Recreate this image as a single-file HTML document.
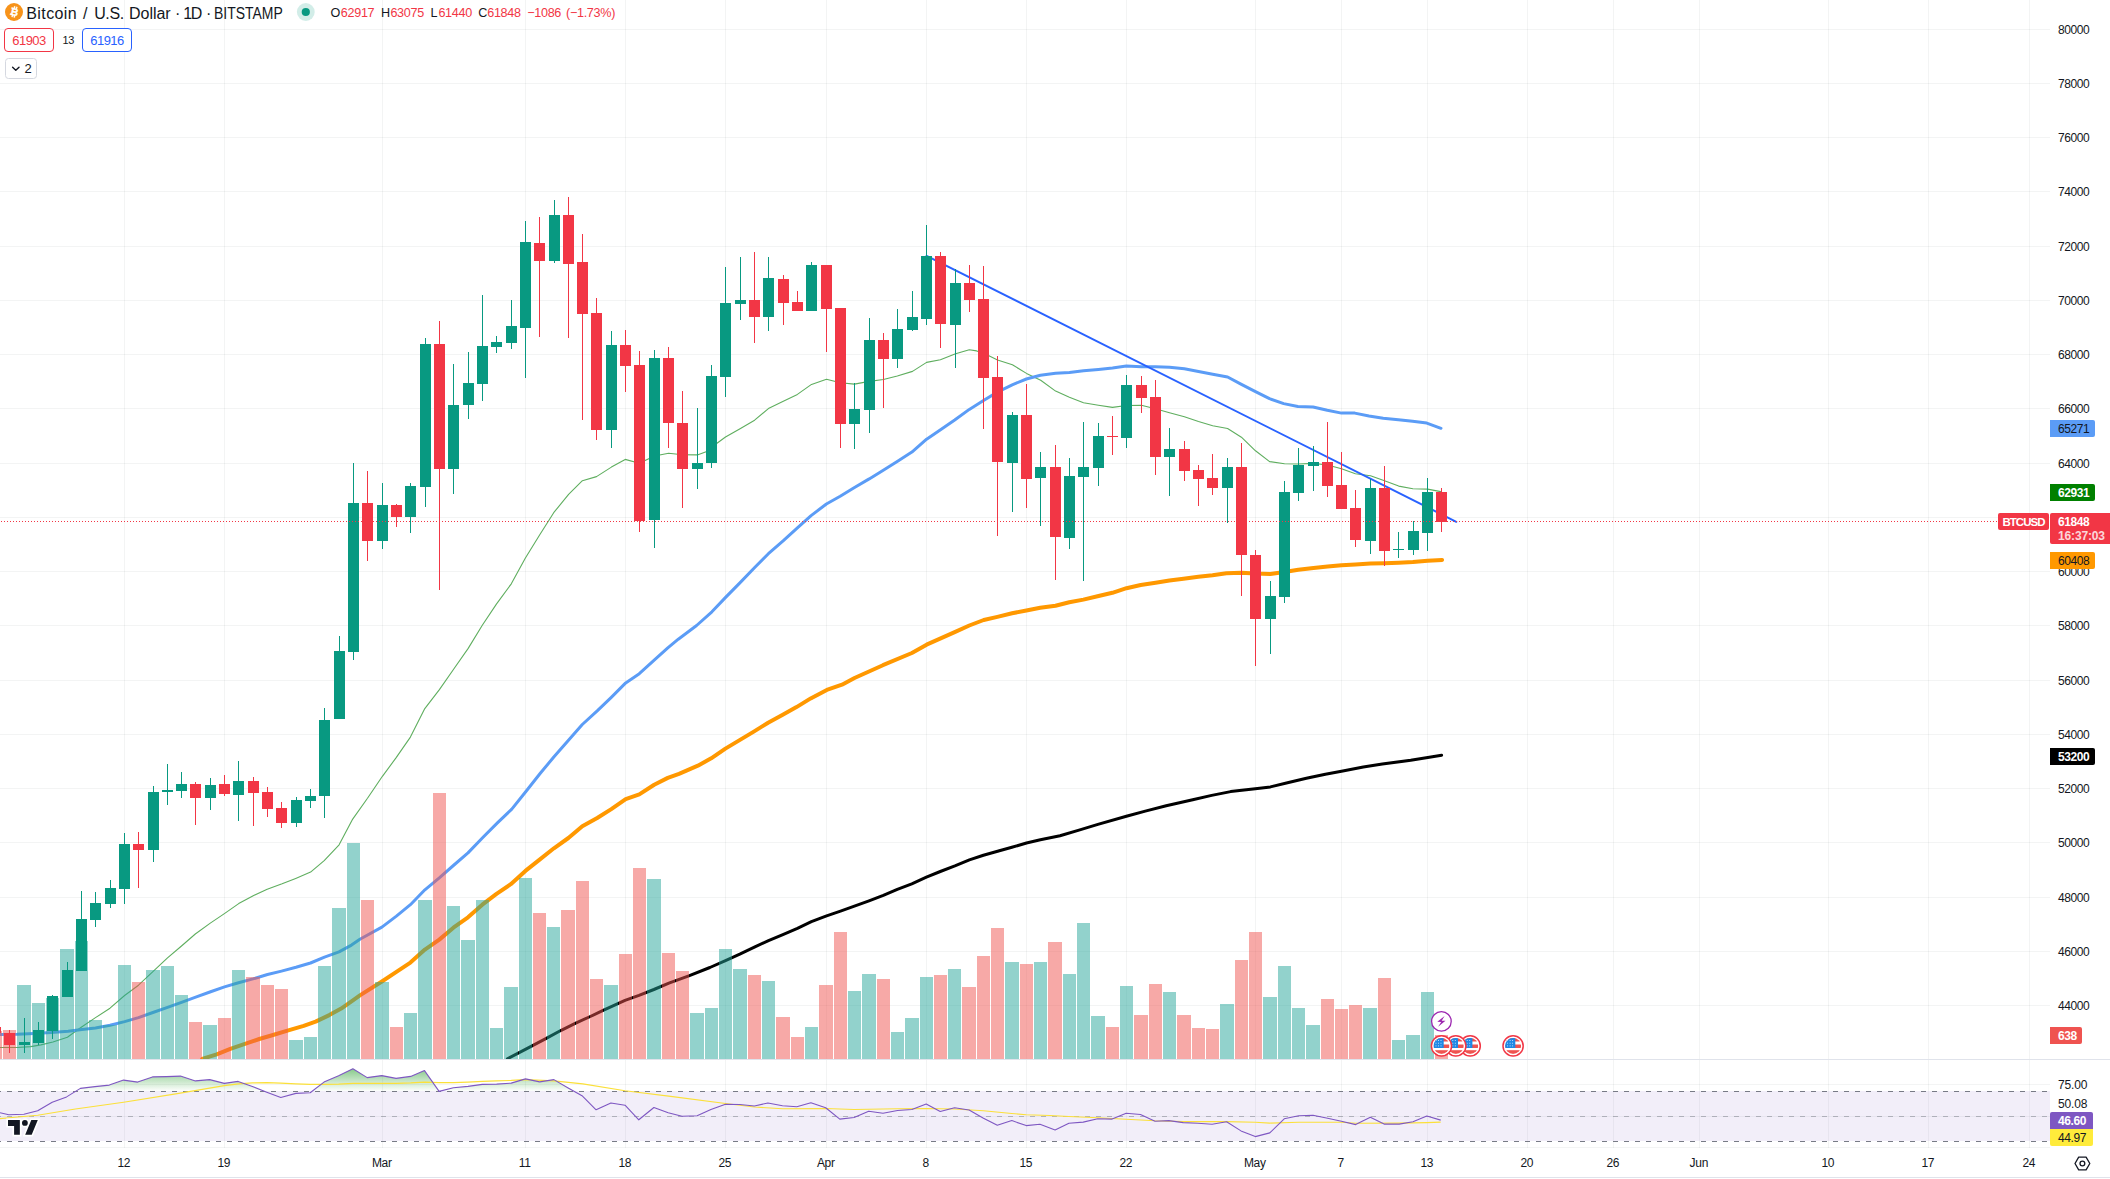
<!DOCTYPE html>
<html><head><meta charset="utf-8"><title>BTCUSD</title><style>
html,body{margin:0;padding:0;background:#fff;}
body{width:2110px;height:1179px;overflow:hidden;position:relative;font-family:"Liberation Sans",sans-serif;}
svg{position:absolute;left:0;top:0;}
.t{position:absolute;white-space:nowrap;font-family:"Liberation Sans",sans-serif;}
.ax{font-size:12px;line-height:14px;color:#131722;letter-spacing:-0.4px;}
.bx{position:absolute;left:2050px;box-sizing:border-box;padding-left:8px;font-size:12px;letter-spacing:-0.4px;border-radius:0 2px 2px 0;white-space:nowrap;font-family:"Liberation Sans",sans-serif;}
.tx{width:60px;text-align:center;font-size:12px;line-height:14px;color:#131722;letter-spacing:-0.3px;}
.ti{top:3.5px;font-size:16px;line-height:20px;color:#131722;}
.oh{top:5px;font-size:12.6px;line-height:16px;letter-spacing:-0.3px;}
.pill{position:absolute;box-sizing:content-box;height:22px;line-height:23px;border:1px solid;border-radius:4px;text-align:center;font-size:13px;letter-spacing:-0.55px;background:#fff;font-family:"Liberation Sans",sans-serif;}
</style></head>
<body>
<svg width="2110" height="1179" viewBox="0 0 2110 1179">
<g shape-rendering="crispEdges" fill="rgba(40,62,56,0.055)">
<rect x="0" y="29" width="2050" height="1"/>
<rect x="0" y="83" width="2050" height="1"/>
<rect x="0" y="137" width="2050" height="1"/>
<rect x="0" y="191" width="2050" height="1"/>
<rect x="0" y="246" width="2050" height="1"/>
<rect x="0" y="300" width="2050" height="1"/>
<rect x="0" y="354" width="2050" height="1"/>
<rect x="0" y="408" width="2050" height="1"/>
<rect x="0" y="463" width="2050" height="1"/>
<rect x="0" y="517" width="2050" height="1"/>
<rect x="0" y="571" width="2050" height="1"/>
<rect x="0" y="625" width="2050" height="1"/>
<rect x="0" y="680" width="2050" height="1"/>
<rect x="0" y="734" width="2050" height="1"/>
<rect x="0" y="788" width="2050" height="1"/>
<rect x="0" y="842" width="2050" height="1"/>
<rect x="0" y="897" width="2050" height="1"/>
<rect x="0" y="951" width="2050" height="1"/>
<rect x="0" y="1005" width="2050" height="1"/>
<rect x="0" y="1084" width="2050" height="1"/>
<rect x="0" y="1116" width="2050" height="1"/>
<rect x="0" y="1147" width="2050" height="1"/>
<rect x="124" y="0" width="1" height="1148"/>
<rect x="224" y="0" width="1" height="1148"/>
<rect x="382" y="0" width="1" height="1148"/>
<rect x="525" y="0" width="1" height="1148"/>
<rect x="625" y="0" width="1" height="1148"/>
<rect x="725" y="0" width="1" height="1148"/>
<rect x="826" y="0" width="1" height="1148"/>
<rect x="926" y="0" width="1" height="1148"/>
<rect x="1026" y="0" width="1" height="1148"/>
<rect x="1126" y="0" width="1" height="1148"/>
<rect x="1255" y="0" width="1" height="1148"/>
<rect x="1341" y="0" width="1" height="1148"/>
<rect x="1427" y="0" width="1" height="1148"/>
<rect x="1527" y="0" width="1" height="1148"/>
<rect x="1613" y="0" width="1" height="1148"/>
<rect x="1699" y="0" width="1" height="1148"/>
<rect x="1828" y="0" width="1" height="1148"/>
<rect x="1928" y="0" width="1" height="1148"/>
<rect x="2029" y="0" width="1" height="1148"/>
</g>
<clipPath id="mp"><rect x="0" y="0" width="2050" height="1059"/></clipPath>
<g fill="none" stroke-linejoin="round" stroke-linecap="round" clip-path="url(#mp)">
<polyline points="0.0,1047.5 17.0,1047.5 30.7,1046.6 40.9,1044.9 52.9,1042.0 67.4,1037.3 81.6,1027.0 95.5,1017.6 110.0,1008.2 124.6,995.5 138.5,985.2 152.9,971.6 167.5,957.9 181.5,946.0 195.3,934.0 210.3,923.1 224.4,913.6 238.7,903.6 253.7,895.5 267.2,889.2 282.1,883.8 295.7,878.4 310.6,872.1 324.2,860.7 339.1,844.8 352.7,819.1 367.5,798.3 382.4,776.3 396.0,757.9 410.4,737.1 424.8,708.6 439.4,689.6 453.6,669.2 468.2,648.4 482.3,625.3 496.4,604.1 511.3,583.8 525.4,558.0 539.6,535.0 553.7,512.7 568.6,494.3 582.4,480.7 596.5,476.6 611.4,467.1 625.2,459.4 639.3,463.3 654.5,456.0 668.6,453.3 682.4,454.7 697.3,454.9 706.8,451.4 716.3,443.8 725.5,437.0 740.5,428.4 754.6,420.2 768.4,408.6 783.3,401.2 797.4,394.4 811.5,384.4 826.5,379.3 840.3,382.8 854.4,384.1 869.3,381.4 883.4,379.5 897.3,376.0 912.5,371.4 926.6,362.4 940.4,359.7 955.6,353.8 969.3,349.8 976.6,350.9 983.4,353.1 997.5,359.9 1012.4,364.8 1026.5,373.4 1040.7,380.2 1055.6,391.1 1069.4,397.3 1083.5,402.7 1098.4,405.2 1112.5,407.4 1126.4,405.5 1141.3,405.2 1155.4,408.7 1169.5,412.8 1184.4,416.8 1198.5,421.5 1212.7,425.8 1227.6,428.5 1241.4,437.2 1255.5,450.8 1269.6,461.6 1284.5,463.8 1298.3,464.0 1313.5,463.4 1327.5,465.0 1341.5,468.8 1355.4,473.8 1370.5,475.7 1384.5,480.8 1398.7,486.1 1412.9,488.8 1427.6,489.1 1440.8,491.6" stroke="#5fae5f" stroke-width="1.1"/>
<polyline points="0.0,1034.4 17.0,1034.2 34.1,1033.5 51.2,1032.6 68.2,1031.3 81.9,1029.6 95.5,1027.9 110.0,1025.3 124.6,1021.6 138.5,1017.6 152.9,1012.5 167.5,1007.4 181.5,1002.3 195.7,997.2 209.9,992.0 224.5,986.9 238.5,982.7 253.0,978.9 267.5,974.5 281.5,971.1 296.0,967.3 310.5,963.0 324.5,957.1 339.0,951.9 351.5,945.1 359.9,939.2 381.9,927.1 396.4,916.1 410.4,904.7 424.9,889.8 439.3,877.8 453.4,865.5 468.0,852.9 483.3,837.0 497.4,822.9 511.8,809.1 525.9,791.5 540.3,773.3 553.8,757.0 568.7,739.9 582.3,724.5 597.2,710.9 611.3,697.3 625.7,682.9 639.3,673.7 654.2,660.2 667.8,647.9 678.3,639.2 696.6,625.5 711.9,611.8 725.6,597.4 739.4,583.4 754.7,567.5 768.4,553.7 783.1,540.9 797.4,527.8 811.1,515.6 826.4,504.0 840.2,496.3 854.5,487.5 869.2,478.9 882.9,470.4 897.6,461.2 911.9,452.1 926.6,439.2 940.9,429.5 954.7,420.0 969.3,409.4 983.5,400.5 997.4,392.1 1012.2,384.8 1026.4,379.0 1040.4,375.2 1055.6,373.2 1069.4,372.6 1083.5,370.7 1098.4,369.4 1112.5,368.0 1126.4,366.1 1141.3,366.7 1155.4,366.7 1169.5,367.2 1184.4,368.8 1198.5,371.5 1212.7,374.3 1227.6,377.0 1241.4,384.3 1255.5,391.6 1269.5,398.7 1283.7,403.6 1297.9,406.5 1313.1,407.0 1327.3,410.3 1341.5,413.1 1354.8,413.1 1369.0,416.0 1383.2,418.3 1398.4,419.8 1412.6,421.2 1426.8,423.1 1441.0,428.3" stroke="#5b9cf6" stroke-width="3"/>
<polyline points="202.2,1058.9 216.7,1054.3 230.3,1048.9 245.7,1043.6 259.3,1039.0 273.0,1035.0 288.3,1030.4 303.7,1025.8 315.6,1021.6 329.3,1015.1 341.2,1008.6 351.5,1001.4 359.9,995.4 381.9,981.5 396.4,971.9 410.4,962.6 424.9,949.6 439.3,939.6 453.4,927.7 468.0,917.3 482.3,904.7 496.5,893.8 510.8,884.2 525.4,870.9 539.3,859.9 553.9,848.3 568.4,838.0 582.3,826.2 597.2,818.0 611.3,809.1 625.7,799.1 639.3,794.4 654.2,784.7 667.8,777.9 679.0,773.8 697.9,765.7 711.2,758.3 725.4,748.6 739.6,740.1 753.8,731.6 768.1,722.7 782.3,715.1 796.5,707.1 810.7,698.4 826.8,689.9 842.0,684.7 854.5,678.0 882.9,665.2 911.9,653.0 926.6,644.7 954.7,632.2 969.3,625.5 983.7,620.0 997.4,616.9 1012.1,613.3 1026.4,610.5 1040.2,607.8 1055.5,605.8 1069.3,602.3 1083.4,599.6 1097.5,596.3 1112.4,592.8 1126.5,588.2 1140.7,585.0 1155.6,582.8 1169.4,580.6 1183.5,578.7 1198.4,576.8 1212.5,575.2 1226.4,573.3 1241.3,572.7 1255.4,573.6 1270.3,574.1 1284.4,571.9 1298.3,569.8 1313.5,567.9 1327.6,566.6 1341.5,565.3 1355.4,564.6 1370.5,563.6 1384.5,563.2 1398.7,562.8 1412.9,562.1 1427.6,560.8 1442.1,559.9" stroke="#ff9800" stroke-width="4"/>
<polyline points="507.4,1058.8 525.4,1049.3 546.3,1038.3 561.2,1030.3 575.2,1023.3 589.2,1017.0 603.1,1010.4 625.0,1000.4 639.0,995.4 653.9,989.5 668.9,983.1 688.8,975.8 709.9,967.5 725.5,960.6 739.8,954.2 754.4,947.2 768.5,940.6 782.9,934.6 797.4,928.3 811.4,921.7 825.9,916.1 840.5,911.1 854.4,906.1 869.0,900.8 883.3,895.4 897.3,889.4 911.8,883.8 926.4,877.2 940.3,871.5 954.9,865.9 969.4,859.9 983.4,855.3 997.6,851.3 1011.9,847.3 1026.5,843.0 1040.4,839.8 1060.0,835.8 1079.0,830.1 1097.9,824.4 1126.4,816.3 1145.3,811.1 1166.2,805.8 1192.7,799.8 1211.7,795.4 1230.6,791.6 1255.3,788.8 1270.4,786.9 1287.5,782.7 1306.4,778.3 1325.4,774.2 1341.5,771.3 1363.3,767.0 1382.3,764.1 1410.7,760.3 1427.8,757.5 1441.6,755.2" stroke="#000" stroke-width="3"/>
</g>
<g shape-rendering="crispEdges">
<rect x="-11" y="1031" width="13" height="28" fill="rgba(239,83,80,0.5)"/>
<rect x="3" y="1030" width="13" height="29" fill="rgba(239,83,80,0.5)"/>
<rect x="17" y="985" width="14" height="74" fill="rgba(38,166,154,0.5)"/>
<rect x="32" y="1003" width="13" height="56" fill="rgba(38,166,154,0.5)"/>
<rect x="46" y="998" width="13" height="61" fill="rgba(38,166,154,0.5)"/>
<rect x="60" y="949" width="14" height="110" fill="rgba(38,166,154,0.5)"/>
<rect x="75" y="941" width="13" height="118" fill="rgba(38,166,154,0.5)"/>
<rect x="89" y="1020" width="13" height="39" fill="rgba(38,166,154,0.5)"/>
<rect x="103" y="1025" width="14" height="34" fill="rgba(38,166,154,0.5)"/>
<rect x="118" y="965" width="13" height="94" fill="rgba(38,166,154,0.5)"/>
<rect x="132" y="982" width="13" height="77" fill="rgba(239,83,80,0.5)"/>
<rect x="146" y="970" width="14" height="89" fill="rgba(38,166,154,0.5)"/>
<rect x="161" y="966" width="13" height="93" fill="rgba(38,166,154,0.5)"/>
<rect x="175" y="995" width="13" height="64" fill="rgba(38,166,154,0.5)"/>
<rect x="189" y="1022" width="13" height="37" fill="rgba(239,83,80,0.5)"/>
<rect x="203" y="1025" width="14" height="34" fill="rgba(38,166,154,0.5)"/>
<rect x="218" y="1018" width="13" height="41" fill="rgba(239,83,80,0.5)"/>
<rect x="232" y="970" width="13" height="89" fill="rgba(38,166,154,0.5)"/>
<rect x="246" y="977" width="14" height="82" fill="rgba(239,83,80,0.5)"/>
<rect x="261" y="985" width="13" height="74" fill="rgba(239,83,80,0.5)"/>
<rect x="275" y="989" width="13" height="70" fill="rgba(239,83,80,0.5)"/>
<rect x="289" y="1040" width="14" height="19" fill="rgba(38,166,154,0.5)"/>
<rect x="304" y="1037" width="13" height="22" fill="rgba(38,166,154,0.5)"/>
<rect x="318" y="966" width="13" height="93" fill="rgba(38,166,154,0.5)"/>
<rect x="332" y="908" width="14" height="151" fill="rgba(38,166,154,0.5)"/>
<rect x="347" y="843" width="13" height="216" fill="rgba(38,166,154,0.5)"/>
<rect x="361" y="900" width="13" height="159" fill="rgba(239,83,80,0.5)"/>
<rect x="375" y="982" width="14" height="77" fill="rgba(38,166,154,0.5)"/>
<rect x="390" y="1027" width="13" height="32" fill="rgba(239,83,80,0.5)"/>
<rect x="404" y="1013" width="13" height="46" fill="rgba(38,166,154,0.5)"/>
<rect x="418" y="900" width="14" height="159" fill="rgba(38,166,154,0.5)"/>
<rect x="433" y="793" width="13" height="266" fill="rgba(239,83,80,0.5)"/>
<rect x="447" y="906" width="13" height="153" fill="rgba(38,166,154,0.5)"/>
<rect x="461" y="940" width="14" height="119" fill="rgba(38,166,154,0.5)"/>
<rect x="476" y="900" width="13" height="159" fill="rgba(38,166,154,0.5)"/>
<rect x="490" y="1028" width="13" height="31" fill="rgba(38,166,154,0.5)"/>
<rect x="504" y="987" width="14" height="72" fill="rgba(38,166,154,0.5)"/>
<rect x="519" y="878" width="13" height="181" fill="rgba(38,166,154,0.5)"/>
<rect x="533" y="913" width="13" height="146" fill="rgba(239,83,80,0.5)"/>
<rect x="547" y="927" width="13" height="132" fill="rgba(38,166,154,0.5)"/>
<rect x="561" y="910" width="14" height="149" fill="rgba(239,83,80,0.5)"/>
<rect x="576" y="881" width="13" height="178" fill="rgba(239,83,80,0.5)"/>
<rect x="590" y="979" width="13" height="80" fill="rgba(239,83,80,0.5)"/>
<rect x="604" y="985" width="14" height="74" fill="rgba(38,166,154,0.5)"/>
<rect x="619" y="954" width="13" height="105" fill="rgba(239,83,80,0.5)"/>
<rect x="633" y="868" width="13" height="191" fill="rgba(239,83,80,0.5)"/>
<rect x="647" y="879" width="14" height="180" fill="rgba(38,166,154,0.5)"/>
<rect x="662" y="953" width="13" height="106" fill="rgba(239,83,80,0.5)"/>
<rect x="676" y="971" width="13" height="88" fill="rgba(239,83,80,0.5)"/>
<rect x="690" y="1013" width="14" height="46" fill="rgba(38,166,154,0.5)"/>
<rect x="705" y="1008" width="13" height="51" fill="rgba(38,166,154,0.5)"/>
<rect x="719" y="949" width="13" height="110" fill="rgba(38,166,154,0.5)"/>
<rect x="733" y="969" width="14" height="90" fill="rgba(38,166,154,0.5)"/>
<rect x="748" y="975" width="13" height="84" fill="rgba(239,83,80,0.5)"/>
<rect x="762" y="981" width="13" height="78" fill="rgba(38,166,154,0.5)"/>
<rect x="776" y="1017" width="14" height="42" fill="rgba(239,83,80,0.5)"/>
<rect x="791" y="1037" width="13" height="22" fill="rgba(239,83,80,0.5)"/>
<rect x="805" y="1027" width="13" height="32" fill="rgba(38,166,154,0.5)"/>
<rect x="819" y="985" width="14" height="74" fill="rgba(239,83,80,0.5)"/>
<rect x="834" y="932" width="13" height="127" fill="rgba(239,83,80,0.5)"/>
<rect x="848" y="991" width="13" height="68" fill="rgba(38,166,154,0.5)"/>
<rect x="862" y="974" width="14" height="85" fill="rgba(38,166,154,0.5)"/>
<rect x="877" y="979" width="13" height="80" fill="rgba(239,83,80,0.5)"/>
<rect x="891" y="1032" width="13" height="27" fill="rgba(38,166,154,0.5)"/>
<rect x="905" y="1018" width="14" height="41" fill="rgba(38,166,154,0.5)"/>
<rect x="920" y="977" width="13" height="82" fill="rgba(38,166,154,0.5)"/>
<rect x="934" y="975" width="13" height="84" fill="rgba(239,83,80,0.5)"/>
<rect x="948" y="969" width="13" height="90" fill="rgba(38,166,154,0.5)"/>
<rect x="962" y="987" width="14" height="72" fill="rgba(239,83,80,0.5)"/>
<rect x="977" y="956" width="13" height="103" fill="rgba(239,83,80,0.5)"/>
<rect x="991" y="928" width="13" height="131" fill="rgba(239,83,80,0.5)"/>
<rect x="1005" y="962" width="14" height="97" fill="rgba(38,166,154,0.5)"/>
<rect x="1020" y="964" width="13" height="95" fill="rgba(239,83,80,0.5)"/>
<rect x="1034" y="962" width="13" height="97" fill="rgba(38,166,154,0.5)"/>
<rect x="1048" y="942" width="14" height="117" fill="rgba(239,83,80,0.5)"/>
<rect x="1063" y="974" width="13" height="85" fill="rgba(38,166,154,0.5)"/>
<rect x="1077" y="923" width="13" height="136" fill="rgba(38,166,154,0.5)"/>
<rect x="1091" y="1016" width="14" height="43" fill="rgba(38,166,154,0.5)"/>
<rect x="1106" y="1027" width="13" height="32" fill="rgba(239,83,80,0.5)"/>
<rect x="1120" y="986" width="13" height="73" fill="rgba(38,166,154,0.5)"/>
<rect x="1134" y="1015" width="14" height="44" fill="rgba(239,83,80,0.5)"/>
<rect x="1149" y="984" width="13" height="75" fill="rgba(239,83,80,0.5)"/>
<rect x="1163" y="992" width="13" height="67" fill="rgba(38,166,154,0.5)"/>
<rect x="1177" y="1015" width="14" height="44" fill="rgba(239,83,80,0.5)"/>
<rect x="1192" y="1028" width="13" height="31" fill="rgba(239,83,80,0.5)"/>
<rect x="1206" y="1029" width="13" height="30" fill="rgba(239,83,80,0.5)"/>
<rect x="1220" y="1004" width="14" height="55" fill="rgba(38,166,154,0.5)"/>
<rect x="1235" y="960" width="13" height="99" fill="rgba(239,83,80,0.5)"/>
<rect x="1249" y="932" width="13" height="127" fill="rgba(239,83,80,0.5)"/>
<rect x="1263" y="997" width="14" height="62" fill="rgba(38,166,154,0.5)"/>
<rect x="1278" y="966" width="13" height="93" fill="rgba(38,166,154,0.5)"/>
<rect x="1292" y="1008" width="13" height="51" fill="rgba(38,166,154,0.5)"/>
<rect x="1306" y="1025" width="14" height="34" fill="rgba(38,166,154,0.5)"/>
<rect x="1321" y="999" width="13" height="60" fill="rgba(239,83,80,0.5)"/>
<rect x="1335" y="1009" width="13" height="50" fill="rgba(239,83,80,0.5)"/>
<rect x="1349" y="1005" width="13" height="54" fill="rgba(239,83,80,0.5)"/>
<rect x="1363" y="1008" width="14" height="51" fill="rgba(38,166,154,0.5)"/>
<rect x="1378" y="978" width="13" height="81" fill="rgba(239,83,80,0.5)"/>
<rect x="1392" y="1040" width="13" height="19" fill="rgba(38,166,154,0.5)"/>
<rect x="1406" y="1035" width="14" height="24" fill="rgba(38,166,154,0.5)"/>
<rect x="1421" y="992" width="13" height="67" fill="rgba(38,166,154,0.5)"/>
<rect x="1435" y="1035" width="13" height="24" fill="rgba(239,83,80,0.5)"/>
</g>
<line x1="926.6" y1="255.8" x2="1456.3" y2="521.8" stroke="#2962ff" stroke-width="2" stroke-linecap="round"/>
<g shape-rendering="crispEdges">
<rect x="-5" y="1025" width="1" height="11" fill="#f23645"/>
<rect x="-10" y="1027" width="11" height="6" fill="#f23645"/>
<rect x="9" y="1030" width="1" height="23" fill="#f23645"/>
<rect x="4" y="1033" width="11" height="12" fill="#f23645"/>
<rect x="24" y="1018" width="1" height="35" fill="#089981"/>
<rect x="19" y="1042" width="11" height="3" fill="#089981"/>
<rect x="38" y="1022" width="1" height="23" fill="#089981"/>
<rect x="33" y="1030" width="11" height="13" fill="#089981"/>
<rect x="52" y="995" width="1" height="44" fill="#089981"/>
<rect x="47" y="996" width="11" height="35" fill="#089981"/>
<rect x="67" y="962" width="1" height="35" fill="#089981"/>
<rect x="62" y="970" width="11" height="27" fill="#089981"/>
<rect x="81" y="891" width="1" height="80" fill="#089981"/>
<rect x="76" y="919" width="11" height="52" fill="#089981"/>
<rect x="95" y="892" width="1" height="35" fill="#089981"/>
<rect x="90" y="903" width="11" height="17" fill="#089981"/>
<rect x="110" y="880" width="1" height="28" fill="#089981"/>
<rect x="105" y="888" width="11" height="16" fill="#089981"/>
<rect x="124" y="833" width="1" height="71" fill="#089981"/>
<rect x="119" y="844" width="11" height="45" fill="#089981"/>
<rect x="138" y="832" width="1" height="56" fill="#f23645"/>
<rect x="133" y="844" width="11" height="6" fill="#f23645"/>
<rect x="153" y="786" width="1" height="76" fill="#089981"/>
<rect x="148" y="792" width="11" height="58" fill="#089981"/>
<rect x="167" y="764" width="1" height="41" fill="#089981"/>
<rect x="162" y="790" width="11" height="2" fill="#089981"/>
<rect x="181" y="772" width="1" height="26" fill="#089981"/>
<rect x="176" y="784" width="11" height="7" fill="#089981"/>
<rect x="195" y="782" width="1" height="43" fill="#f23645"/>
<rect x="190" y="784" width="11" height="14" fill="#f23645"/>
<rect x="210" y="778" width="1" height="32" fill="#089981"/>
<rect x="205" y="785" width="11" height="13" fill="#089981"/>
<rect x="224" y="775" width="1" height="21" fill="#f23645"/>
<rect x="219" y="784" width="11" height="10" fill="#f23645"/>
<rect x="238" y="761" width="1" height="60" fill="#089981"/>
<rect x="233" y="781" width="11" height="14" fill="#089981"/>
<rect x="253" y="777" width="1" height="49" fill="#f23645"/>
<rect x="248" y="781" width="11" height="12" fill="#f23645"/>
<rect x="267" y="787" width="1" height="30" fill="#f23645"/>
<rect x="262" y="792" width="11" height="17" fill="#f23645"/>
<rect x="281" y="802" width="1" height="26" fill="#f23645"/>
<rect x="276" y="808" width="11" height="15" fill="#f23645"/>
<rect x="296" y="797" width="1" height="30" fill="#089981"/>
<rect x="291" y="800" width="11" height="23" fill="#089981"/>
<rect x="310" y="789" width="1" height="19" fill="#089981"/>
<rect x="305" y="796" width="11" height="5" fill="#089981"/>
<rect x="324" y="708" width="1" height="110" fill="#089981"/>
<rect x="319" y="720" width="11" height="76" fill="#089981"/>
<rect x="339" y="636" width="1" height="83" fill="#089981"/>
<rect x="334" y="651" width="11" height="68" fill="#089981"/>
<rect x="353" y="463" width="1" height="197" fill="#089981"/>
<rect x="348" y="503" width="11" height="149" fill="#089981"/>
<rect x="367" y="471" width="1" height="90" fill="#f23645"/>
<rect x="362" y="503" width="11" height="38" fill="#f23645"/>
<rect x="382" y="483" width="1" height="66" fill="#089981"/>
<rect x="377" y="505" width="11" height="36" fill="#089981"/>
<rect x="396" y="504" width="1" height="23" fill="#f23645"/>
<rect x="391" y="505" width="11" height="12" fill="#f23645"/>
<rect x="410" y="483" width="1" height="50" fill="#089981"/>
<rect x="405" y="486" width="11" height="31" fill="#089981"/>
<rect x="425" y="338" width="1" height="169" fill="#089981"/>
<rect x="420" y="344" width="11" height="143" fill="#089981"/>
<rect x="439" y="321" width="1" height="269" fill="#f23645"/>
<rect x="434" y="344" width="11" height="125" fill="#f23645"/>
<rect x="453" y="364" width="1" height="130" fill="#089981"/>
<rect x="448" y="405" width="11" height="64" fill="#089981"/>
<rect x="468" y="352" width="1" height="67" fill="#089981"/>
<rect x="463" y="383" width="11" height="22" fill="#089981"/>
<rect x="482" y="295" width="1" height="106" fill="#089981"/>
<rect x="477" y="346" width="11" height="38" fill="#089981"/>
<rect x="496" y="336" width="1" height="17" fill="#089981"/>
<rect x="491" y="342" width="11" height="5" fill="#089981"/>
<rect x="511" y="300" width="1" height="49" fill="#089981"/>
<rect x="506" y="326" width="11" height="17" fill="#089981"/>
<rect x="525" y="221" width="1" height="157" fill="#089981"/>
<rect x="520" y="242" width="11" height="86" fill="#089981"/>
<rect x="539" y="217" width="1" height="120" fill="#f23645"/>
<rect x="534" y="243" width="11" height="18" fill="#f23645"/>
<rect x="554" y="200" width="1" height="63" fill="#089981"/>
<rect x="549" y="215" width="11" height="46" fill="#089981"/>
<rect x="568" y="197" width="1" height="141" fill="#f23645"/>
<rect x="563" y="215" width="11" height="49" fill="#f23645"/>
<rect x="582" y="234" width="1" height="186" fill="#f23645"/>
<rect x="577" y="262" width="11" height="52" fill="#f23645"/>
<rect x="596" y="298" width="1" height="142" fill="#f23645"/>
<rect x="591" y="313" width="11" height="117" fill="#f23645"/>
<rect x="611" y="331" width="1" height="117" fill="#089981"/>
<rect x="606" y="345" width="11" height="85" fill="#089981"/>
<rect x="625" y="330" width="1" height="62" fill="#f23645"/>
<rect x="620" y="345" width="11" height="21" fill="#f23645"/>
<rect x="639" y="351" width="1" height="181" fill="#f23645"/>
<rect x="634" y="365" width="11" height="156" fill="#f23645"/>
<rect x="654" y="350" width="1" height="198" fill="#089981"/>
<rect x="649" y="358" width="11" height="162" fill="#089981"/>
<rect x="668" y="347" width="1" height="101" fill="#f23645"/>
<rect x="663" y="358" width="11" height="65" fill="#f23645"/>
<rect x="682" y="391" width="1" height="117" fill="#f23645"/>
<rect x="677" y="423" width="11" height="46" fill="#f23645"/>
<rect x="697" y="408" width="1" height="81" fill="#089981"/>
<rect x="692" y="463" width="11" height="6" fill="#089981"/>
<rect x="711" y="365" width="1" height="103" fill="#089981"/>
<rect x="706" y="376" width="11" height="87" fill="#089981"/>
<rect x="725" y="267" width="1" height="130" fill="#089981"/>
<rect x="720" y="303" width="11" height="74" fill="#089981"/>
<rect x="740" y="257" width="1" height="63" fill="#089981"/>
<rect x="735" y="300" width="11" height="4" fill="#089981"/>
<rect x="754" y="252" width="1" height="91" fill="#f23645"/>
<rect x="749" y="300" width="11" height="17" fill="#f23645"/>
<rect x="768" y="257" width="1" height="74" fill="#089981"/>
<rect x="763" y="278" width="11" height="39" fill="#089981"/>
<rect x="783" y="275" width="1" height="50" fill="#f23645"/>
<rect x="778" y="279" width="11" height="24" fill="#f23645"/>
<rect x="797" y="291" width="1" height="20" fill="#f23645"/>
<rect x="792" y="302" width="11" height="9" fill="#f23645"/>
<rect x="811" y="262" width="1" height="49" fill="#089981"/>
<rect x="806" y="265" width="11" height="46" fill="#089981"/>
<rect x="826" y="265" width="1" height="87" fill="#f23645"/>
<rect x="821" y="265" width="11" height="44" fill="#f23645"/>
<rect x="840" y="308" width="1" height="140" fill="#f23645"/>
<rect x="835" y="308" width="11" height="116" fill="#f23645"/>
<rect x="854" y="383" width="1" height="66" fill="#089981"/>
<rect x="849" y="409" width="11" height="15" fill="#089981"/>
<rect x="869" y="318" width="1" height="115" fill="#089981"/>
<rect x="864" y="340" width="11" height="70" fill="#089981"/>
<rect x="883" y="333" width="1" height="75" fill="#f23645"/>
<rect x="878" y="340" width="11" height="19" fill="#f23645"/>
<rect x="897" y="309" width="1" height="59" fill="#089981"/>
<rect x="892" y="329" width="11" height="30" fill="#089981"/>
<rect x="912" y="291" width="1" height="40" fill="#089981"/>
<rect x="907" y="317" width="11" height="13" fill="#089981"/>
<rect x="926" y="225" width="1" height="100" fill="#089981"/>
<rect x="921" y="256" width="11" height="63" fill="#089981"/>
<rect x="940" y="252" width="1" height="96" fill="#f23645"/>
<rect x="935" y="256" width="11" height="68" fill="#f23645"/>
<rect x="955" y="269" width="1" height="99" fill="#089981"/>
<rect x="950" y="283" width="11" height="42" fill="#089981"/>
<rect x="969" y="265" width="1" height="47" fill="#f23645"/>
<rect x="964" y="283" width="11" height="17" fill="#f23645"/>
<rect x="983" y="266" width="1" height="163" fill="#f23645"/>
<rect x="978" y="299" width="11" height="79" fill="#f23645"/>
<rect x="997" y="356" width="1" height="180" fill="#f23645"/>
<rect x="992" y="377" width="11" height="85" fill="#f23645"/>
<rect x="1012" y="412" width="1" height="100" fill="#089981"/>
<rect x="1007" y="415" width="11" height="48" fill="#089981"/>
<rect x="1026" y="384" width="1" height="124" fill="#f23645"/>
<rect x="1021" y="415" width="11" height="64" fill="#f23645"/>
<rect x="1040" y="452" width="1" height="74" fill="#089981"/>
<rect x="1035" y="467" width="11" height="11" fill="#089981"/>
<rect x="1055" y="445" width="1" height="135" fill="#f23645"/>
<rect x="1050" y="467" width="11" height="70" fill="#f23645"/>
<rect x="1069" y="458" width="1" height="91" fill="#089981"/>
<rect x="1064" y="476" width="11" height="62" fill="#089981"/>
<rect x="1083" y="422" width="1" height="159" fill="#089981"/>
<rect x="1078" y="467" width="11" height="10" fill="#089981"/>
<rect x="1098" y="423" width="1" height="63" fill="#089981"/>
<rect x="1093" y="436" width="11" height="32" fill="#089981"/>
<rect x="1112" y="416" width="1" height="39" fill="#f23645"/>
<rect x="1107" y="436" width="11" height="1" fill="#f23645"/>
<rect x="1126" y="375" width="1" height="73" fill="#089981"/>
<rect x="1121" y="385" width="11" height="53" fill="#089981"/>
<rect x="1141" y="376" width="1" height="37" fill="#f23645"/>
<rect x="1136" y="385" width="11" height="13" fill="#f23645"/>
<rect x="1155" y="380" width="1" height="95" fill="#f23645"/>
<rect x="1150" y="397" width="11" height="60" fill="#f23645"/>
<rect x="1169" y="428" width="1" height="68" fill="#089981"/>
<rect x="1164" y="449" width="11" height="8" fill="#089981"/>
<rect x="1184" y="441" width="1" height="40" fill="#f23645"/>
<rect x="1179" y="449" width="11" height="22" fill="#f23645"/>
<rect x="1198" y="465" width="1" height="41" fill="#f23645"/>
<rect x="1193" y="470" width="11" height="9" fill="#f23645"/>
<rect x="1212" y="454" width="1" height="41" fill="#f23645"/>
<rect x="1207" y="478" width="11" height="10" fill="#f23645"/>
<rect x="1227" y="458" width="1" height="65" fill="#089981"/>
<rect x="1222" y="467" width="11" height="21" fill="#089981"/>
<rect x="1241" y="443" width="1" height="153" fill="#f23645"/>
<rect x="1236" y="467" width="11" height="88" fill="#f23645"/>
<rect x="1255" y="550" width="1" height="116" fill="#f23645"/>
<rect x="1250" y="555" width="11" height="64" fill="#f23645"/>
<rect x="1270" y="581" width="1" height="73" fill="#089981"/>
<rect x="1265" y="596" width="11" height="23" fill="#089981"/>
<rect x="1284" y="481" width="1" height="122" fill="#089981"/>
<rect x="1279" y="492" width="11" height="105" fill="#089981"/>
<rect x="1298" y="448" width="1" height="53" fill="#089981"/>
<rect x="1293" y="465" width="11" height="28" fill="#089981"/>
<rect x="1313" y="446" width="1" height="45" fill="#089981"/>
<rect x="1308" y="462" width="11" height="4" fill="#089981"/>
<rect x="1327" y="422" width="1" height="75" fill="#f23645"/>
<rect x="1322" y="462" width="11" height="24" fill="#f23645"/>
<rect x="1341" y="452" width="1" height="57" fill="#f23645"/>
<rect x="1336" y="485" width="11" height="24" fill="#f23645"/>
<rect x="1355" y="490" width="1" height="57" fill="#f23645"/>
<rect x="1350" y="508" width="11" height="32" fill="#f23645"/>
<rect x="1370" y="479" width="1" height="75" fill="#089981"/>
<rect x="1365" y="488" width="11" height="53" fill="#089981"/>
<rect x="1384" y="466" width="1" height="100" fill="#f23645"/>
<rect x="1379" y="488" width="11" height="63" fill="#f23645"/>
<rect x="1398" y="532" width="1" height="26" fill="#089981"/>
<rect x="1393" y="549" width="11" height="1" fill="#089981"/>
<rect x="1413" y="521" width="1" height="34" fill="#089981"/>
<rect x="1408" y="531" width="11" height="19" fill="#089981"/>
<rect x="1427" y="478" width="1" height="73" fill="#089981"/>
<rect x="1422" y="492" width="11" height="41" fill="#089981"/>
<rect x="1441" y="488" width="1" height="44" fill="#f23645"/>
<rect x="1436" y="492" width="11" height="30" fill="#f23645"/>
</g>
<line x1="1" y1="521.5" x2="2050" y2="521.5" stroke="#f23645" stroke-width="1" stroke-dasharray="1 2" shape-rendering="crispEdges"/>
<g transform="translate(1513.1,1045.9)"><circle r="10.1" fill="#fff" stroke="#f23645" stroke-width="1.5"/><clipPath id="fc3"><circle r="8"/></clipPath><g clip-path="url(#fc3)"><rect x="-8" y="-8" width="16" height="16" fill="#fff"/><rect x="-8" y="-8" width="16" height="3.6" fill="#ef5350"/><rect x="-8" y="-1.4" width="16" height="3.5" fill="#ef5350"/><rect x="-8" y="4.3" width="16" height="3.7" fill="#ef5350"/><rect x="-8" y="-8" width="10.2" height="10.1" fill="#1e88e5"/><rect x="-5.95" y="-5.8500000000000005" width="0.9" height="0.9" fill="#fff" opacity="0.85"/><rect x="-3.45" y="-5.8500000000000005" width="0.9" height="0.9" fill="#fff" opacity="0.85"/><rect x="-0.95" y="-5.8500000000000005" width="0.9" height="0.9" fill="#fff" opacity="0.85"/><rect x="-5.95" y="-3.1500000000000004" width="0.9" height="0.9" fill="#fff" opacity="0.85"/><rect x="-3.45" y="-3.1500000000000004" width="0.9" height="0.9" fill="#fff" opacity="0.85"/><rect x="-0.95" y="-3.1500000000000004" width="0.9" height="0.9" fill="#fff" opacity="0.85"/><rect x="-5.95" y="-0.45" width="0.9" height="0.9" fill="#fff" opacity="0.85"/><rect x="-3.45" y="-0.45" width="0.9" height="0.9" fill="#fff" opacity="0.85"/><rect x="-0.95" y="-0.45" width="0.9" height="0.9" fill="#fff" opacity="0.85"/></g></g>
<g transform="translate(1470.2,1045.9)"><circle r="10.1" fill="#fff" stroke="#f23645" stroke-width="1.5"/><clipPath id="fc2"><circle r="8"/></clipPath><g clip-path="url(#fc2)"><rect x="-8" y="-8" width="16" height="16" fill="#fff"/><rect x="-8" y="-8" width="16" height="3.6" fill="#ef5350"/><rect x="-8" y="-1.4" width="16" height="3.5" fill="#ef5350"/><rect x="-8" y="4.3" width="16" height="3.7" fill="#ef5350"/><rect x="-8" y="-8" width="10.2" height="10.1" fill="#1e88e5"/><rect x="-5.95" y="-5.8500000000000005" width="0.9" height="0.9" fill="#fff" opacity="0.85"/><rect x="-3.45" y="-5.8500000000000005" width="0.9" height="0.9" fill="#fff" opacity="0.85"/><rect x="-0.95" y="-5.8500000000000005" width="0.9" height="0.9" fill="#fff" opacity="0.85"/><rect x="-5.95" y="-3.1500000000000004" width="0.9" height="0.9" fill="#fff" opacity="0.85"/><rect x="-3.45" y="-3.1500000000000004" width="0.9" height="0.9" fill="#fff" opacity="0.85"/><rect x="-0.95" y="-3.1500000000000004" width="0.9" height="0.9" fill="#fff" opacity="0.85"/><rect x="-5.95" y="-0.45" width="0.9" height="0.9" fill="#fff" opacity="0.85"/><rect x="-3.45" y="-0.45" width="0.9" height="0.9" fill="#fff" opacity="0.85"/><rect x="-0.95" y="-0.45" width="0.9" height="0.9" fill="#fff" opacity="0.85"/></g></g>
<g transform="translate(1455.8,1045.9)"><circle r="10.1" fill="#fff" stroke="#f23645" stroke-width="1.5"/><clipPath id="fc1"><circle r="8"/></clipPath><g clip-path="url(#fc1)"><rect x="-8" y="-8" width="16" height="16" fill="#fff"/><rect x="-8" y="-8" width="16" height="3.6" fill="#ef5350"/><rect x="-8" y="-1.4" width="16" height="3.5" fill="#ef5350"/><rect x="-8" y="4.3" width="16" height="3.7" fill="#ef5350"/><rect x="-8" y="-8" width="10.2" height="10.1" fill="#1e88e5"/><rect x="-5.95" y="-5.8500000000000005" width="0.9" height="0.9" fill="#fff" opacity="0.85"/><rect x="-3.45" y="-5.8500000000000005" width="0.9" height="0.9" fill="#fff" opacity="0.85"/><rect x="-0.95" y="-5.8500000000000005" width="0.9" height="0.9" fill="#fff" opacity="0.85"/><rect x="-5.95" y="-3.1500000000000004" width="0.9" height="0.9" fill="#fff" opacity="0.85"/><rect x="-3.45" y="-3.1500000000000004" width="0.9" height="0.9" fill="#fff" opacity="0.85"/><rect x="-0.95" y="-3.1500000000000004" width="0.9" height="0.9" fill="#fff" opacity="0.85"/><rect x="-5.95" y="-0.45" width="0.9" height="0.9" fill="#fff" opacity="0.85"/><rect x="-3.45" y="-0.45" width="0.9" height="0.9" fill="#fff" opacity="0.85"/><rect x="-0.95" y="-0.45" width="0.9" height="0.9" fill="#fff" opacity="0.85"/></g></g>
<g transform="translate(1441.5,1045.9)"><circle r="10.1" fill="#fff" stroke="#f23645" stroke-width="1.5"/><clipPath id="fc0"><circle r="8"/></clipPath><g clip-path="url(#fc0)"><rect x="-8" y="-8" width="16" height="16" fill="#fff"/><rect x="-8" y="-8" width="16" height="3.6" fill="#ef5350"/><rect x="-8" y="-1.4" width="16" height="3.5" fill="#ef5350"/><rect x="-8" y="4.3" width="16" height="3.7" fill="#ef5350"/><rect x="-8" y="-8" width="10.2" height="10.1" fill="#1e88e5"/><rect x="-5.95" y="-5.8500000000000005" width="0.9" height="0.9" fill="#fff" opacity="0.85"/><rect x="-3.45" y="-5.8500000000000005" width="0.9" height="0.9" fill="#fff" opacity="0.85"/><rect x="-0.95" y="-5.8500000000000005" width="0.9" height="0.9" fill="#fff" opacity="0.85"/><rect x="-5.95" y="-3.1500000000000004" width="0.9" height="0.9" fill="#fff" opacity="0.85"/><rect x="-3.45" y="-3.1500000000000004" width="0.9" height="0.9" fill="#fff" opacity="0.85"/><rect x="-0.95" y="-3.1500000000000004" width="0.9" height="0.9" fill="#fff" opacity="0.85"/><rect x="-5.95" y="-0.45" width="0.9" height="0.9" fill="#fff" opacity="0.85"/><rect x="-3.45" y="-0.45" width="0.9" height="0.9" fill="#fff" opacity="0.85"/><rect x="-0.95" y="-0.45" width="0.9" height="0.9" fill="#fff" opacity="0.85"/></g></g>
<g transform="translate(1441.4,1021.4)"><circle r="9.8" fill="#fff" stroke="#9c27b0" stroke-width="1.3"/><path d="M3.2,-5.3 L-4.1,0.3 L-0.2,0.5 L-3.3,5.3 L4.1,-0.6 L0.3,-0.7 Z" fill="#9c27b0"/></g>
<rect x="0" y="1059" width="2110" height="1" fill="#e0e3eb" shape-rendering="crispEdges"/>
<rect x="0" y="1177" width="2110" height="1" fill="#e0e3eb" shape-rendering="crispEdges"/>
<defs><linearGradient id="rg" gradientUnits="userSpaceOnUse" x1="0" y1="1066" x2="0" y2="1091.5"><stop offset="0" stop-color="#4caf50" stop-opacity="0.75"/><stop offset="1" stop-color="#4caf50" stop-opacity="0"/></linearGradient><clipPath id="rc"><rect x="0" y="1060" width="2050" height="31.5"/></clipPath></defs>
<rect x="0" y="1091" width="2050" height="50" fill="rgba(126,87,194,0.1)" shape-rendering="crispEdges"/>
<polygon points="0.0,1112.8 8.8,1114.8 23.9,1114.3 37.7,1110.8 52.2,1102.2 66.6,1096.9 80.4,1088.4 95.0,1086.6 109.3,1085.1 123.6,1080.1 137.7,1082.1 152.5,1076.9 166.5,1076.6 180.4,1076.1 195.4,1080.9 209.7,1079.6 224.3,1083.4 238.1,1081.4 252.4,1086.4 266.8,1092.2 280.8,1097.5 295.9,1093.4 310.2,1092.7 324.0,1082.1 338.6,1075.8 352.9,1068.8 367.2,1077.6 381.8,1075.6 396.1,1078.4 410.7,1076.4 424.5,1070.6 439.1,1091.4 453.4,1087.7 468.0,1086.4 482.3,1084.4 496.6,1084.1 511.2,1083.1 525.5,1078.9 539.6,1081.9 553.9,1079.6 567.7,1087.7 582.0,1095.7 596.1,1109.8 610.9,1103.0 625.0,1105.2 638.8,1119.8 653.9,1107.5 668.2,1112.8 682.0,1116.3 697.1,1115.8 710.9,1109.5 725.5,1104.2 739.8,1104.5 754.4,1106.0 767.9,1103.0 782.5,1105.7 796.8,1106.7 810.9,1102.7 825.7,1107.7 839.8,1119.1 854.1,1117.5 868.7,1111.3 883.0,1113.3 897.5,1110.5 911.9,1109.5 926.2,1104.0 940.2,1111.5 954.6,1107.7 969.1,1110.0 983.5,1118.3 997.3,1125.3 1011.8,1120.6 1026.2,1125.6 1040.0,1124.3 1055.1,1129.9 1068.9,1123.3 1083.2,1122.1 1097.8,1118.8 1112.1,1119.1 1126.2,1113.3 1140.5,1114.5 1155.0,1121.3 1168.9,1120.6 1183.2,1122.6 1197.7,1123.3 1212.1,1124.3 1226.6,1121.8 1241.0,1130.9 1255.3,1136.6 1269.8,1132.9 1284.2,1118.8 1298.7,1115.8 1313.0,1115.3 1327.6,1118.3 1341.4,1121.3 1355.7,1124.6 1370.3,1117.3 1384.1,1124.1 1399.2,1124.1 1413.0,1121.8 1426.8,1116.0 1440.7,1120.1 1440.7,1091.5 0,1091.5" fill="url(#rg)" clip-path="url(#rc)"/>
<g shape-rendering="crispEdges" stroke-width="1" stroke-dasharray="5 6"><line x1="-4" y1="1091.5" x2="2050" y2="1091.5" stroke="#787b86"/><line x1="-4" y1="1116.5" x2="2050" y2="1116.5" stroke="#787b86" stroke-opacity="0.5"/><line x1="-4" y1="1141.5" x2="2050" y2="1141.5" stroke="#787b86"/></g>
<polyline points="0.0,1118.6 15.0,1117.3 37.7,1115.3 75.4,1109.0 123.6,1102.2 175.8,1093.9 224.3,1085.6 238.6,1083.9 252.4,1082.9 266.8,1082.6 280.8,1083.1 295.9,1083.9 310.2,1084.4 324.0,1084.4 338.6,1084.1 352.9,1083.4 396.1,1083.4 410.7,1082.9 424.5,1082.1 439.1,1082.6 453.4,1082.6 468.0,1082.1 482.3,1081.4 496.6,1080.9 511.2,1080.4 525.0,1079.6 553.9,1080.9 582.8,1083.9 625.0,1090.7 670.7,1096.4 725.5,1103.5 754.4,1107.0 782.5,1108.8 825.7,1108.5 854.1,1109.5 897.5,1108.8 926.2,1108.5 954.6,1109.0 983.5,1110.8 1011.8,1113.5 1026.2,1114.8 1050.0,1115.5 1068.9,1116.5 1097.8,1117.8 1126.2,1119.3 1155.0,1120.8 1183.2,1121.6 1226.6,1121.6 1255.3,1122.3 1269.8,1123.1 1298.7,1122.3 1341.4,1122.3 1355.7,1123.3 1399.2,1123.1 1426.8,1122.6 1440.7,1122.1" fill="none" stroke="#fbe03a" stroke-width="1.1" stroke-linejoin="round"/>
<polyline points="0.0,1112.8 8.8,1114.8 23.9,1114.3 37.7,1110.8 52.2,1102.2 66.6,1096.9 80.4,1088.4 95.0,1086.6 109.3,1085.1 123.6,1080.1 137.7,1082.1 152.5,1076.9 166.5,1076.6 180.4,1076.1 195.4,1080.9 209.7,1079.6 224.3,1083.4 238.1,1081.4 252.4,1086.4 266.8,1092.2 280.8,1097.5 295.9,1093.4 310.2,1092.7 324.0,1082.1 338.6,1075.8 352.9,1068.8 367.2,1077.6 381.8,1075.6 396.1,1078.4 410.7,1076.4 424.5,1070.6 439.1,1091.4 453.4,1087.7 468.0,1086.4 482.3,1084.4 496.6,1084.1 511.2,1083.1 525.5,1078.9 539.6,1081.9 553.9,1079.6 567.7,1087.7 582.0,1095.7 596.1,1109.8 610.9,1103.0 625.0,1105.2 638.8,1119.8 653.9,1107.5 668.2,1112.8 682.0,1116.3 697.1,1115.8 710.9,1109.5 725.5,1104.2 739.8,1104.5 754.4,1106.0 767.9,1103.0 782.5,1105.7 796.8,1106.7 810.9,1102.7 825.7,1107.7 839.8,1119.1 854.1,1117.5 868.7,1111.3 883.0,1113.3 897.5,1110.5 911.9,1109.5 926.2,1104.0 940.2,1111.5 954.6,1107.7 969.1,1110.0 983.5,1118.3 997.3,1125.3 1011.8,1120.6 1026.2,1125.6 1040.0,1124.3 1055.1,1129.9 1068.9,1123.3 1083.2,1122.1 1097.8,1118.8 1112.1,1119.1 1126.2,1113.3 1140.5,1114.5 1155.0,1121.3 1168.9,1120.6 1183.2,1122.6 1197.7,1123.3 1212.1,1124.3 1226.6,1121.8 1241.0,1130.9 1255.3,1136.6 1269.8,1132.9 1284.2,1118.8 1298.7,1115.8 1313.0,1115.3 1327.6,1118.3 1341.4,1121.3 1355.7,1124.6 1370.3,1117.3 1384.1,1124.1 1399.2,1124.1 1413.0,1121.8 1426.8,1116.0 1440.7,1120.1" fill="none" stroke="#7e57c2" stroke-width="1.1" stroke-linejoin="round"/>
<path d="M8,1120.1 H19.85 V1134.8 H14.1 V1125.9 H8 Z M31.3,1120.1 H37.8 L31.7,1134.8 H25.2 Z M27.8,1122.9 a2.9,2.9 0 1,0 -5.8,0 a2.9,2.9 0 1,0 5.8,0 Z" fill="#fff" stroke="#fff" stroke-width="3.4" stroke-linejoin="miter"/>
<path d="M8,1120.1 H19.85 V1134.8 H14.1 V1125.9 H8 Z M31.3,1120.1 H37.8 L31.7,1134.8 H25.2 Z M27.8,1122.9 a2.9,2.9 0 1,0 -5.8,0 a2.9,2.9 0 1,0 5.8,0 Z" fill="#131722"/>
<circle cx="14" cy="12" r="9" fill="#f7931a"/>
<g transform="translate(0.6 0) rotate(14 14 12)" fill="#fff" stroke="#fff" stroke-width="0.35"><text x="14.1" y="15.6" font-family="Liberation Sans, sans-serif" font-weight="bold" font-size="10.2" text-anchor="middle">B</text><rect x="12.2" y="6.6" width="1.1" height="2.2"/><rect x="14.4" y="6.6" width="1.1" height="2.2"/><rect x="12.2" y="15.2" width="1.1" height="2.2"/><rect x="14.4" y="15.2" width="1.1" height="2.2"/><rect x="10" y="8.3" width="2" height="1"/><rect x="10" y="14.6" width="2" height="1"/></g>
<circle cx="305.8" cy="12" r="8.9" fill="#089981" fill-opacity="0.18"/><circle cx="305.8" cy="12" r="4.1" fill="#089981"/>
<rect x="5.5" y="58.5" width="31" height="20" rx="3" fill="#fff" stroke="#d5d8e0" stroke-width="1"/>
<path d="M12.6,67.2 L15.8,70.2 L19,67.2" fill="none" stroke="#131722" stroke-width="1.4" stroke-linecap="round" stroke-linejoin="round"/>
<polygon points="2089.8,1163.5 2086.1,1169.9 2078.7,1169.9 2075.0,1163.5 2078.7,1157.1 2086.1,1157.1" fill="none" stroke="#131722" stroke-width="1.3" stroke-linejoin="round"/>
<circle cx="2082.4" cy="1163.5" r="2.4" fill="none" stroke="#131722" stroke-width="1.3"/>
</svg>
<div class="t ax" style="left:2058px;top:23px;">80000</div>
<div class="t ax" style="left:2058px;top:77px;">78000</div>
<div class="t ax" style="left:2058px;top:131px;">76000</div>
<div class="t ax" style="left:2058px;top:185px;">74000</div>
<div class="t ax" style="left:2058px;top:240px;">72000</div>
<div class="t ax" style="left:2058px;top:294px;">70000</div>
<div class="t ax" style="left:2058px;top:348px;">68000</div>
<div class="t ax" style="left:2058px;top:402px;">66000</div>
<div class="t ax" style="left:2058px;top:457px;">64000</div>
<div class="t ax" style="left:2058px;top:511px;">62000</div>
<div class="t ax" style="left:2058px;top:565px;">60000</div>
<div class="t ax" style="left:2058px;top:619px;">58000</div>
<div class="t ax" style="left:2058px;top:674px;">56000</div>
<div class="t ax" style="left:2058px;top:728px;">54000</div>
<div class="t ax" style="left:2058px;top:782px;">52000</div>
<div class="t ax" style="left:2058px;top:836px;">50000</div>
<div class="t ax" style="left:2058px;top:891px;">48000</div>
<div class="t ax" style="left:2058px;top:945px;">46000</div>
<div class="t ax" style="left:2058px;top:999px;">44000</div>
<div class="t ax" style="left:2058px;top:1078px;letter-spacing:-0.15px;">75.00</div>
<div class="t ax" style="left:2058px;top:1096.7px;letter-spacing:-0.15px;">50.08</div>
<div class="bx" style="top:420px;height:17px;width:45px;background:#5b9cf6;color:#131722;font-weight:normal;line-height:18.6px;">65271</div>
<div class="bx" style="top:484px;height:17px;width:45px;background:#008000;color:#fff;font-weight:bold;line-height:18.6px;">62931</div>
<div class="bx" style="top:552px;height:17px;width:45px;background:#ff9800;color:#131722;font-weight:normal;line-height:18.6px;">60408</div>
<div class="bx" style="top:748px;height:17px;width:45px;background:#000;color:#fff;font-weight:bold;line-height:18.6px;">53200</div>
<div class="bx" style="top:1027px;height:17px;width:32px;background:#ef5350;color:#fff;font-weight:bold;line-height:18.6px;">638</div>
<div class="bx" style="top:1112px;height:17px;width:43px;background:#7e57c2;color:#fff;font-weight:bold;line-height:18.6px;border-radius:2px 2px 0 0;">46.60</div>
<div class="bx" style="top:1129px;height:17px;width:43px;background:#ffeb3b;color:#131722;font-weight:normal;line-height:18.6px;border-radius:0 0 2px 2px;">44.97</div>
<div class="bx" style="top:513px;height:31px;width:60px;background:#f23645;color:#fff;font-weight:bold;border-radius:2px 0 0 2px;"><div style="line-height:14px;padding-top:2.3px;">61848</div><div style="line-height:14px;opacity:.8;letter-spacing:-0.15px;">16:37:03</div></div>
<div class="t" style="left:1998px;top:513px;width:51px;height:17px;background:#f23645;color:#fff;font-weight:bold;font-size:11.5px;line-height:18px;text-align:center;border-radius:2px;letter-spacing:-0.95px;">BTCUSD</div>
<div class="t tx" style="left:93.8px;top:1156px;">12</div>
<div class="t tx" style="left:193.8px;top:1156px;">19</div>
<div class="t tx" style="left:351.8px;top:1156px;">Mar</div>
<div class="t tx" style="left:494.8px;top:1156px;">11</div>
<div class="t tx" style="left:594.8px;top:1156px;">18</div>
<div class="t tx" style="left:694.8px;top:1156px;">25</div>
<div class="t tx" style="left:795.8px;top:1156px;">Apr</div>
<div class="t tx" style="left:895.8px;top:1156px;">8</div>
<div class="t tx" style="left:995.8px;top:1156px;">15</div>
<div class="t tx" style="left:1095.8px;top:1156px;">22</div>
<div class="t tx" style="left:1224.8px;top:1156px;">May</div>
<div class="t tx" style="left:1310.8px;top:1156px;">7</div>
<div class="t tx" style="left:1396.8px;top:1156px;">13</div>
<div class="t tx" style="left:1496.8px;top:1156px;">20</div>
<div class="t tx" style="left:1582.8px;top:1156px;">26</div>
<div class="t tx" style="left:1668.8px;top:1156px;">Jun</div>
<div class="t tx" style="left:1797.8px;top:1156px;">10</div>
<div class="t tx" style="left:1897.8px;top:1156px;">17</div>
<div class="t tx" style="left:1998.8px;top:1156px;">24</div>
<div class="t ti" style="left:26.3px;letter-spacing:0.4px;">Bitcoin</div>
<div class="t ti" style="left:83.1px;">/</div>
<div class="t ti" style="left:94.2px;letter-spacing:-0.37px;">U.S.</div>
<div class="t ti" style="left:129.1px;letter-spacing:-0.04px;">Dollar</div>
<div class="t ti" style="left:174.9px;">&middot;</div>
<div class="t ti" style="left:183.3px;letter-spacing:-1.5px;">1D</div>
<div class="t ti" style="left:206px;">&middot;</div>
<div class="t ti" style="left:213.7px;transform:scaleX(0.872);transform-origin:0 0;">BITSTAMP</div>
<div class="t oh" id="o1" style="left:330.6px;color:#131722;">O</div>
<div class="t oh" id="o2" style="left:340.8px;color:#f23645;">62917</div>
<div class="t oh" id="o3" style="left:381px;color:#131722;">H</div>
<div class="t oh" id="o4" style="left:390.4px;color:#f23645;">63075</div>
<div class="t oh" id="o5" style="left:430.6px;color:#131722;">L</div>
<div class="t oh" id="o6" style="left:438.4px;color:#f23645;">61440</div>
<div class="t oh" id="o7" style="left:478.2px;color:#131722;">C</div>
<div class="t oh" id="o8" style="left:487.2px;color:#f23645;">61848</div>
<div class="t oh" id="o9" style="left:527.2px;color:#f23645;">&minus;1086</div>
<div class="t oh" id="o10" style="left:566px;color:#f23645;">(&minus;1.73%)</div>
<div class="pill" style="left:4px;top:28px;width:48px;border-color:#f23645;color:#f23645;">61903</div>
<div class="t" style="left:62.5px;top:34px;font-size:11px;line-height:13px;color:#131722;letter-spacing:-0.3px;">13</div>
<div class="pill" style="left:82px;top:28px;width:48px;border-color:#2962ff;color:#2962ff;">61916</div>
<div class="t" style="left:24.6px;top:61px;font-size:13px;line-height:15px;color:#131722;">2</div>
</body></html>
